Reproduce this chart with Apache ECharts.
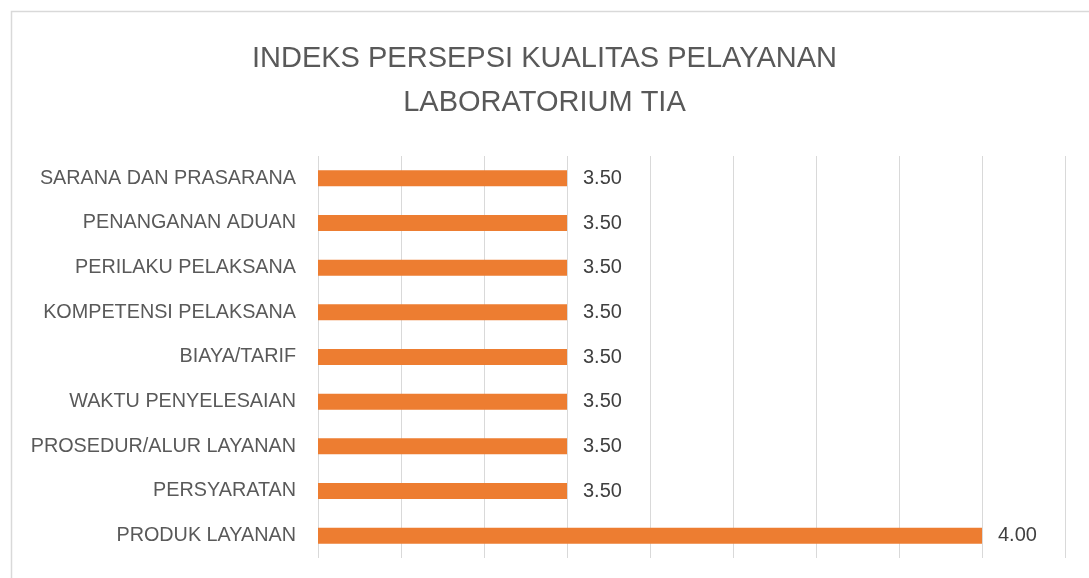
<!DOCTYPE html>
<html>
<head>
<meta charset="utf-8">
<script src="https://cdn.jsdelivr.net/npm/echarts@6/dist/echarts.min.js"></script>
<style>
  html, body { margin: 0; padding: 0; background: #fff; }
  #main { width: 1089px; height: 578px; }
</style>
</head>
<body>
<div id="main"></div>
<script>
// data
var titleText = 'INDEKS PERSEPSI KUALITAS PELAYANAN\nLABORATORIUM TIA';
var categories = ['SARANA DAN PRASARANA', 'PENANGANAN ADUAN', 'PERILAKU PELAKSANA',
    'KOMPETENSI PELAKSANA', 'BIAYA/TARIF', 'WAKTU PENYELESAIAN',
    'PROSEDUR/ALUR LAYANAN', 'PERSYARATAN', 'PRODUK LAYANAN'];
var values = [3.5, 3.5, 3.5, 3.5, 3.5, 3.5, 3.5, 3.5, 4.0];

var chart = echarts.init(document.getElementById('main'));
var option = {
    backgroundColor: '#fff',
    title: {
        text: titleText,
        left: 'center',
        top: 32,
        textStyle: {
            fontFamily: 'Liberation Sans',
            fontSize: 29,
            fontWeight: 'normal',
            color: '#595959',
            lineHeight: 44
        }
    },
    graphic: [{
        type: 'rect',
        left: 9,
        top: 9,
        shape: { width: 1100, height: 600 },
        style: { fill: 'none', stroke: '#d9d9d9', lineWidth: 1.5 },
        silent: true
    }],
    grid: {
        left: 318,
        right: 24,
        top: 156,
        bottom: 20
    },
    xAxis: {
        type: 'value',
        min: 3.2,
        max: 4.1,
        interval: 0.1,
        axisLabel: { show: false },
        axisLine: { show: false },
        axisTick: { show: false },
        splitLine: { lineStyle: { color: '#d9d9d9', width: 1 } }
    },
    yAxis: {
        type: 'category',
        inverse: true,
        data: categories,
        axisLine: { show: false },
        axisTick: { show: false },
        axisLabel: {
            margin: 22,
            fontFamily: 'Liberation Sans',
            fontSize: 19.8,
            color: '#595959'
        }
    },
    series: [{
        type: 'bar',
        data: values,
        barWidth: 16,
        itemStyle: { color: '#ED7D31' },
        label: {
            show: true,
            position: 'right',
            distance: 16,
            fontFamily: 'Liberation Sans',
            fontSize: 20,
            color: '#404040',
            formatter: function (p) { return p.value.toFixed(2); }
        }
    }]
};
chart.setOption(option);
</script>
</body>
</html>
